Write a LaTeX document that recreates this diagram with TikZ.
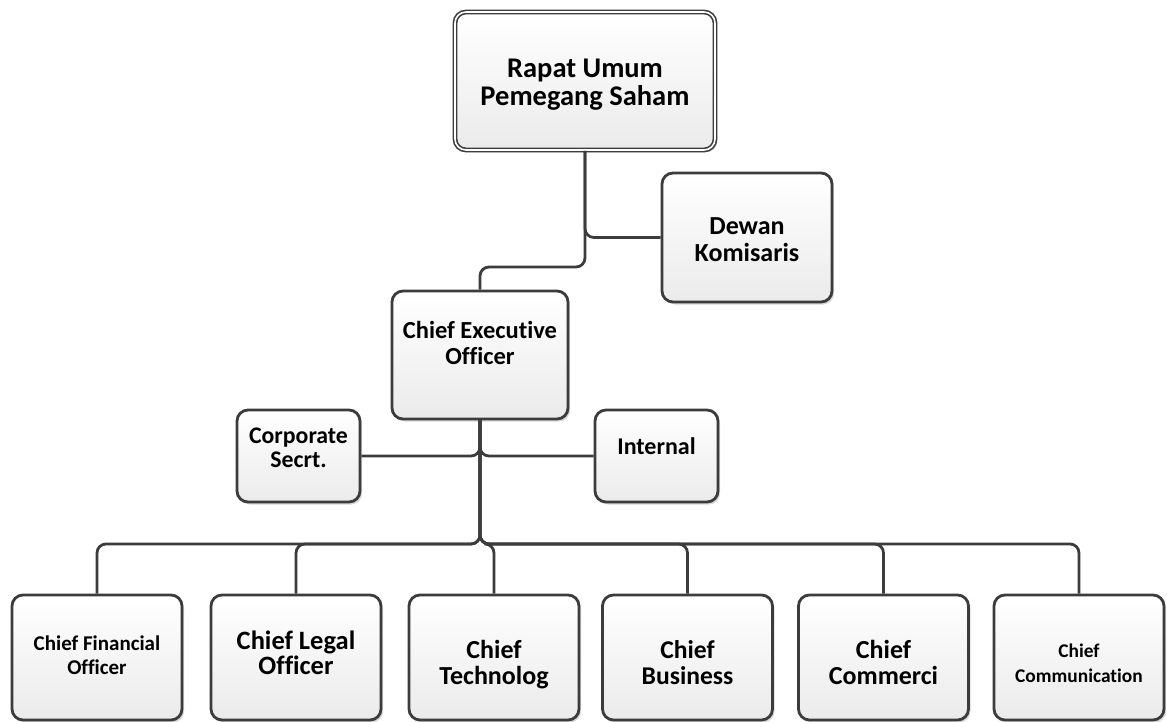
\documentclass[tikz,border=0pt]{standalone}
\usepackage{fontspec}
\setmainfont{Carlito}[Ligatures=NoCommon]
\usetikzlibrary{shadows}
\definecolor{edge}{HTML}{3C3C3C}
\tikzset{
  box/.style={draw=edge, line width=2.8pt, rounded corners=11pt, top color=white, bottom color=black!8,
    drop shadow={shadow xshift=2pt, shadow yshift=-2.5pt, fill=black!30, opacity=0.5}, inner sep=0pt},
  txt/.style={align=center, inner sep=0pt},
  link/.style={draw=edge, line width=2.8pt, rounded corners=9pt},
}
\begin{document}
\begin{tikzpicture}[x=1pt,y=-1pt]
\useasboundingbox (0,0) rectangle (1167,722);
% boxes
\node[box, minimum width=260pt, minimum height=138pt, line width=1.6pt, double=white, double distance=1.6pt] (rups) at (585,81) {};
\node[box, minimum width=170pt, minimum height=129pt] (dewan) at (747,237.5) {};
\node[box, minimum width=176pt, minimum height=128pt] (ceo) at (480,355) {};
\node[box, minimum width=123pt, minimum height=92pt] (corp) at (298.5,456) {};
\node[box, minimum width=123pt, minimum height=92pt] (intl) at (656.5,456) {};
\node[box, minimum width=170pt, minimum height=125pt] (cfo) at (97,657.5) {};
\node[box, minimum width=170pt, minimum height=125pt] (clo) at (296,657.5) {};
\node[box, minimum width=170pt, minimum height=125pt] (cto) at (494,657.5) {};
\node[box, minimum width=170pt, minimum height=125pt] (cbo) at (687.5,657.5) {};
\node[box, minimum width=170pt, minimum height=125pt] (cco) at (883.5,657.5) {};
\node[box, minimum width=170pt, minimum height=125pt] (ccm) at (1079,657.5) {};
% texts
\node[txt, font=\fontsize{28.5}{28}\selectfont\bfseries] (rupst) at ([yshift=-4pt]rups.center) {Rapat Umum\\Pemegang Saham};
\node[txt, font=\fontsize{26}{27}\selectfont\bfseries] (dewant) at ([yshift=-2pt]dewan.center) {Dewan\\Komisaris};
\node[txt, font=\fontsize{24.5}{26}\selectfont\bfseries] (ceot) at ([yshift=12pt]ceo.center) {Chief Executive\\Officer};
\node[txt, font=\fontsize{23.8}{24}\selectfont\bfseries] (corpt) at ([yshift=8pt]corp.center) {Corporate\\Secrt.};
\node[txt, font=\fontsize{24}{24}\selectfont\bfseries] (intlt) at ([yshift=10pt]intl.center) {Internal};
\node[txt, font=\fontsize{21}{24}\selectfont\bfseries] (cfot) at ([yshift=2pt]cfo.center) {Chief Financial\\Officer};
\node[txt, font=\fontsize{26.5}{25}\selectfont\bfseries] (clot) at ([yshift=5pt]clo.center) {Chief Legal\\Officer};
\node[txt, font=\fontsize{26}{26}\selectfont\bfseries] (ctot) at ([yshift=-7pt]cto.center) {Chief\\Technolog};
\node[txt, font=\fontsize{25.6}{26}\selectfont\bfseries] (cbot) at ([yshift=-5pt]cbo.center) {Chief\\Business};
\node[txt, font=\fontsize{26}{26}\selectfont\bfseries] (ccot) at ([yshift=-5pt]cco.center) {Chief\\Commerci};
\node[txt, font=\fontsize{19.4}{25}\selectfont\bfseries] (ccmt) at ([yshift=-6pt]ccm.center) {Chief\\Communication};
% connectors
\coordinate (j1) at (585,267);
\coordinate (j2) at (480,544);
\draw[link] (rups.south) |- (dewan.west);
\draw[link] (rups.south) -- (j1) -| (ceo.north);
\draw[link] (ceo.south) |- (corp.east);
\draw[link] (ceo.south) |- (intl.west);
\foreach \c in {cfo,clo,cto,cbo,cco,ccm}{
  \draw[link] (ceo.south) -- (j2) -| (\c.north);
}
\end{tikzpicture}
\end{document}
